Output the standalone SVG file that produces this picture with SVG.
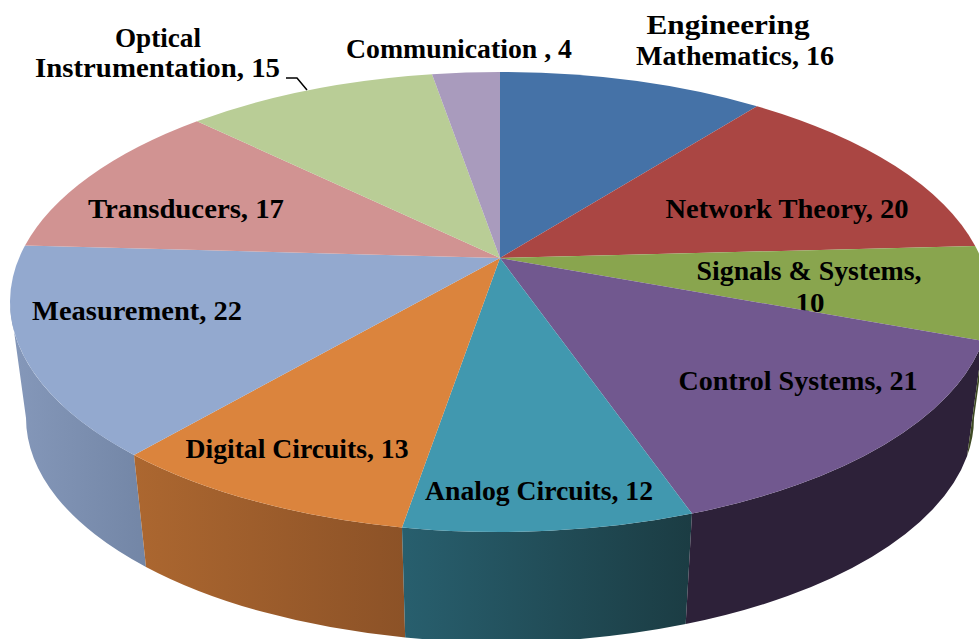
<svg xmlns="http://www.w3.org/2000/svg" width="979" height="639" viewBox="0 0 979 639">
<style>
.lbl{font-family:"Liberation Serif","Times New Roman",serif;font-weight:bold;font-size:27px;fill:#000;text-anchor:middle}
.lead{fill:none;stroke:#000;stroke-width:1.5}
</style>
<defs>
<linearGradient id="gMeas" gradientUnits="userSpaceOnUse" x1="10" y1="0" x2="146" y2="0"><stop offset="0" stop-color="#8598BA"/><stop offset="1" stop-color="#7386A6"/></linearGradient>
<linearGradient id="gDig" gradientUnits="userSpaceOnUse" x1="134" y1="0" x2="405" y2="0"><stop offset="0" stop-color="#AC6730"/><stop offset="1" stop-color="#8C5227"/></linearGradient>
<linearGradient id="gAna" gradientUnits="userSpaceOnUse" x1="402" y1="0" x2="692" y2="0"><stop offset="0" stop-color="#285F6E"/><stop offset="1" stop-color="#1B3C43"/></linearGradient>
</defs>
<rect width="979" height="639" fill="#fff"/>
<g id="sides">
<path id="side-measurement" d="M10,302 A490,230 0 0 0 134,454.9 L146,566.9 A474,224 0 0 1 26,418 Z" fill="url(#gMeas)"/>
<path id="side-digital" d="M134,454.9 A490,230 0 0 0 402,527.4 L405.2,637.5 A474,224 0 0 1 146,566.9 Z" fill="url(#gDig)"/>
<path id="side-analog" d="M402,527.4 A490,230 0 0 0 692,513.6 L685.7,624.1 A474,224 0 0 1 405.2,637.5 Z" fill="url(#gAna)"/>
<path id="side-control" d="M692,513.6 A490,230 0 0 0 982.9,341 L967.1,456 A474,224 0 0 1 685.7,624.1 Z" fill="#2D2139"/>
<path id="side-signals" d="M982.9,341 A490,230 0 0 0 990,302 L974,418 A474,224 0 0 1 967.1,456 Z" fill="#3F4A24"/>
</g>
<g id="engineering-mathematics">
<path d="M500,258 L500,72 A490,230 0 0 1 757,106.2 Z" fill="#4572A7"/>
<text class="lbl" x="728" y="34" textLength="163" lengthAdjust="spacingAndGlyphs">Engineering</text>
<text class="lbl" x="735" y="65" textLength="198" lengthAdjust="spacingAndGlyphs">Mathematics, 16</text>
</g>
<g id="network-theory">
<path d="M500,258 L757,106.2 A490,230 0 0 1 975.2,246 Z" fill="#AA4643"/>
<text class="lbl" x="787" y="218" textLength="243" lengthAdjust="spacingAndGlyphs">Network Theory, 20</text>
</g>
<g id="signals-systems">
<path d="M500,258 L975.2,246 A490,230 0 0 1 982.9,341 Z" fill="#89A54E"/>
<text class="lbl" x="809" y="280" textLength="225" lengthAdjust="spacingAndGlyphs">Signals &amp; Systems,</text>
<text class="lbl" x="810" y="312" textLength="29" lengthAdjust="spacingAndGlyphs">10</text>
</g>
<g id="control-systems">
<path d="M500,258 L982.9,341 A490,230 0 0 1 692,513.6 Z" fill="#71588F"/>
<text class="lbl" x="798" y="390" textLength="239" lengthAdjust="spacingAndGlyphs">Control Systems, 21</text>
</g>
<g id="analog-circuits">
<path d="M500,258 L692,513.6 A490,230 0 0 1 402,527.4 Z" fill="#4198AF"/>
<text class="lbl" x="539" y="500" textLength="228" lengthAdjust="spacingAndGlyphs">Analog Circuits, 12</text>
</g>
<g id="digital-circuits">
<path d="M500,258 L402,527.4 A490,230 0 0 1 134,454.9 Z" fill="#DB843D"/>
<text class="lbl" x="297" y="458" textLength="223" lengthAdjust="spacingAndGlyphs">Digital Circuits, 13</text>
</g>
<g id="measurement">
<path d="M500,258 L134,454.9 A490,230 0 0 1 25,245.5 Z" fill="#93A9CF"/>
<text class="lbl" x="137" y="320" textLength="210" lengthAdjust="spacingAndGlyphs">Measurement, 22</text>
</g>
<g id="transducers">
<path d="M500,258 L25,245.5 A490,230 0 0 1 197,121.2 Z" fill="#D19392"/>
<text class="lbl" x="186" y="218" textLength="196" lengthAdjust="spacingAndGlyphs">Transducers, 17</text>
</g>
<g id="optical-instrumentation">
<path d="M500,258 L197,121.2 A490,230 0 0 1 432,74.2 Z" fill="#B9CD96"/>
<text class="lbl" x="158" y="47" textLength="86" lengthAdjust="spacingAndGlyphs">Optical</text>
<text class="lbl" x="157.5" y="77" textLength="245" lengthAdjust="spacingAndGlyphs">Instrumentation, 15</text>
</g>
<g id="communication">
<path d="M500,258 L432,74.2 A490,230 0 0 1 500,72 Z" fill="#A99BBD"/>
<text class="lbl" x="459" y="58" textLength="226" lengthAdjust="spacingAndGlyphs">Communication , 4</text>
</g>
<g id="connectors">
<polyline class="lead" points="286,78 297,78 307,90"/>
</g>
</svg>
